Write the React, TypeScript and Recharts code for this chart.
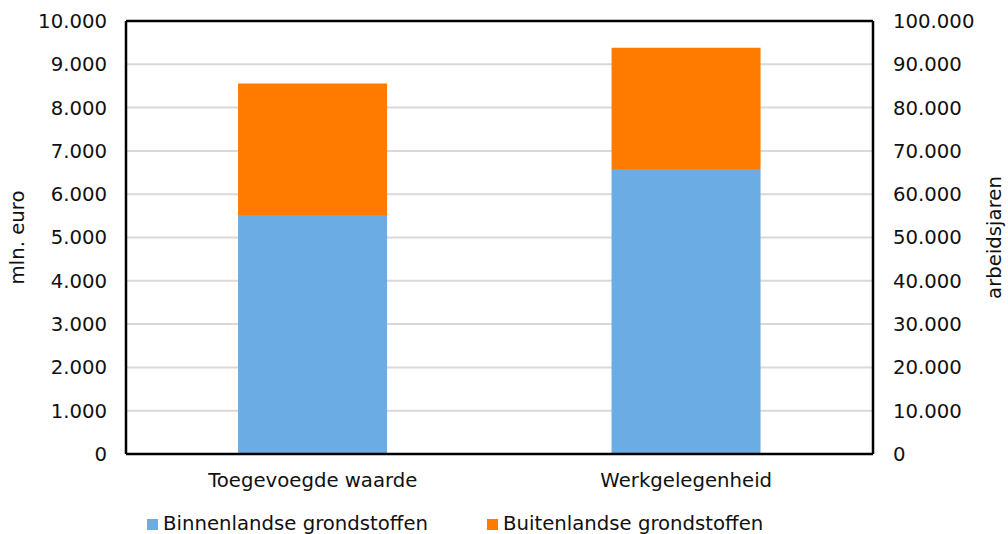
import React from 'react';
import { BarChart, Bar, XAxis, YAxis, CartesianGrid, Label, ReferenceLine } from 'recharts';

const categories = ['Toegevoegde waarde', 'Werkgelegenheid'];
// mln. euro (left axis)
const binnenEuro = [5520, null];
const buitenEuro = [3035, null];
// arbeidsjaren (right axis)
const binnenJaren = [null, 65840];
const buitenJaren = [null, 28010];

const leftTicks = [0, 1000, 2000, 3000, 4000, 5000, 6000, 7000, 8000, 9000, 10000];
const rightTicks = [0, 10000, 20000, 30000, 40000, 50000, 60000, 70000, 80000, 90000, 100000];

const data = categories.map((name, i) => ({
  name,
  binnenEuro: binnenEuro[i],
  buitenEuro: buitenEuro[i],
  binnenJaren: binnenJaren[i],
  buitenJaren: buitenJaren[i],
}));

const BLUE = '#6aace3';
const ORANGE = '#ff7b00';
const FONT = 'Verdana, "DejaVu Sans", sans-serif';
const fmt = (v: number) => v.toLocaleString('nl-NL');
const tickStyle = { fontSize: 19.7, fill: '#111', fontFamily: FONT };

const App: React.FC = () => {
  return (
    <div style={{ position: 'absolute', left: 0, top: 0, width: 1008, height: 534, background: '#fff', fontFamily: FONT }}>
      <BarChart width={1008} height={534} data={data} margin={{ top: 21, right: 0, left: 0, bottom: 0 }} barCategoryGap="30%">
        <CartesianGrid yAxisId="left" xAxisId="main" vertical={false} stroke="#d9d9d9" strokeWidth={2} />
        <XAxis
          xAxisId="main"
          dataKey="name"
          height={80}
          tickLine={false}
          axisLine={{ stroke: '#000', strokeWidth: 2.5 }}
          tickMargin={13}
          tick={tickStyle}
        />
        <XAxis xAxisId="top" dataKey="name" orientation="top" height={0} tick={false} tickLine={false} axisLine={{ stroke: '#000', strokeWidth: 2.5 }} />
        <YAxis
          yAxisId="left"
          width={126}
          domain={[0, 10000]}
          ticks={leftTicks}
          tickFormatter={fmt}
          tickLine={false}
          axisLine={{ stroke: '#000', strokeWidth: 2.5 }}
          tickMargin={13}
          tick={tickStyle}
        >
          <Label value="mln. euro" angle={-90} position="insideLeft" offset={17} style={{ textAnchor: 'middle', fontSize: 19.7, fill: '#111', fontFamily: FONT }} />
        </YAxis>
        <YAxis
          yAxisId="right"
          orientation="right"
          width={135}
          domain={[0, 100000]}
          ticks={rightTicks}
          tickFormatter={fmt}
          tickLine={false}
          axisLine={{ stroke: '#000', strokeWidth: 2.5 }}
          tickMargin={14}
          tick={tickStyle}
        >
          <Label value="arbeidsjaren" angle={-90} position="insideRight" offset={14} style={{ textAnchor: 'middle', fontSize: 19.7, fill: '#111', fontFamily: FONT }} />
        </YAxis>
        <Bar xAxisId="main" yAxisId="left" dataKey="binnenEuro" stackId="euro" fill={BLUE} isAnimationActive={false} />
        <Bar xAxisId="main" yAxisId="left" dataKey="buitenEuro" stackId="euro" fill={ORANGE} isAnimationActive={false} />
        <Bar xAxisId="top" yAxisId="right" dataKey="binnenJaren" stackId="jaren" fill={BLUE} isAnimationActive={false} />
        <Bar xAxisId="top" yAxisId="right" dataKey="buitenJaren" stackId="jaren" fill={ORANGE} isAnimationActive={false} />
        <ReferenceLine xAxisId="main" yAxisId="left" y={10000} stroke="#000" strokeWidth={2.5} />
      </BarChart>
      <div style={{ position: 'absolute', top: 512, left: 147, display: 'flex', alignItems: 'center', fontSize: 19.7, color: '#111', whiteSpace: 'nowrap', lineHeight: '24px' }}>
        <span style={{ display: 'inline-block', width: 11, height: 11, background: BLUE, marginRight: 5 }} />
        <span>Binnenlandse grondstoffen</span>
        <span style={{ display: 'inline-block', width: 11, height: 11, background: ORANGE, marginLeft: 59, marginRight: 5 }} />
        <span>Buitenlandse grondstoffen</span>
      </div>
    </div>
  );
};

export default App;
